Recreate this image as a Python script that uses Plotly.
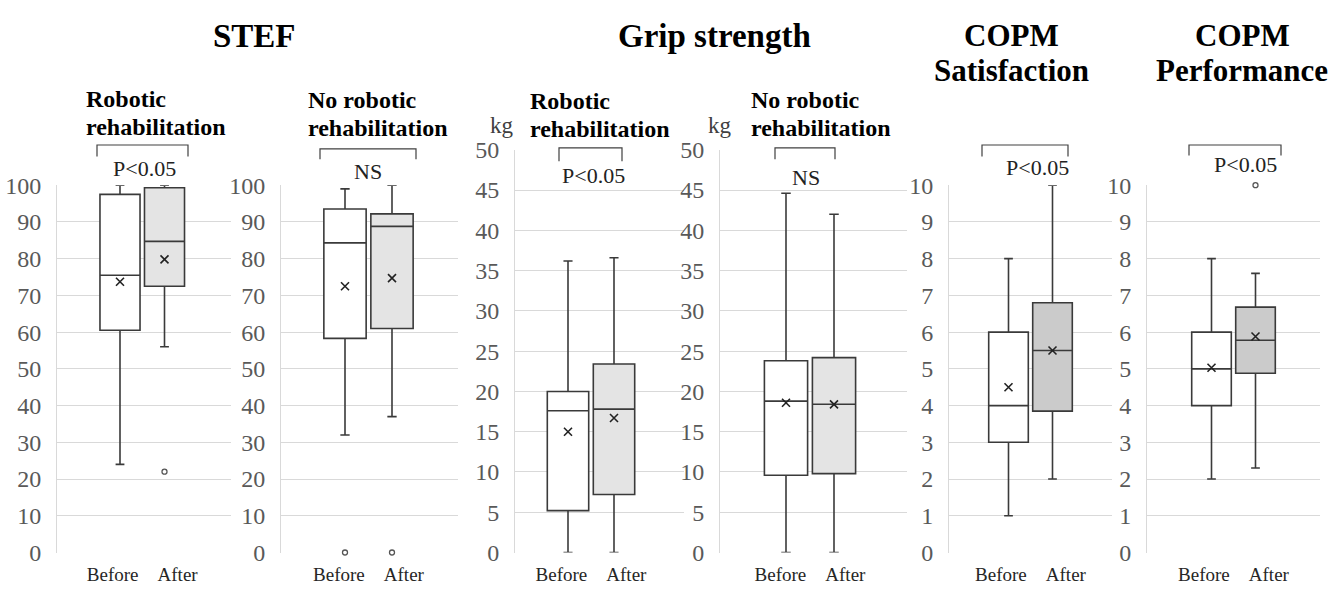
import plotly.graph_objects as go

# ---------------- data ----------------
groups = ["Before", "After"]

stef_rob_low = [24, 56]
stef_rob_q1 = [60.5, 72.5]
stef_rob_med = [75.5, 84.7]
stef_rob_q3 = [97.5, 99.3]
stef_rob_high = [100, 100]
stef_rob_mean = [73.7, 79.8]
stef_rob_out = [[], [22]]

stef_no_low = [32, 37]
stef_no_q1 = [58.3, 61]
stef_no_med = [84.3, 88.8]
stef_no_q3 = [93.5, 92.2]
stef_no_high = [99, 100]
stef_no_mean = [72.5, 74.7]
stef_no_out = [[0], [0]]

grip_rob_low = [0, 0]
grip_rob_q1 = [5.2, 7.2]
grip_rob_med = [17.6, 17.8]
grip_rob_q3 = [20.0, 23.4]
grip_rob_high = [36.2, 36.6]
grip_rob_mean = [15.0, 16.7]
grip_rob_out = [[], []]

grip_no_low = [0, 0]
grip_no_q1 = [9.6, 9.8]
grip_no_med = [18.8, 18.4]
grip_no_q3 = [23.8, 24.2]
grip_no_high = [44.6, 42.0]
grip_no_mean = [18.6, 18.4]
grip_no_out = [[], []]

sat_low = [1, 2]
sat_q1 = [3, 3.85]
sat_med = [4, 5.5]
sat_q3 = [6, 6.8]
sat_high = [8, 10]
sat_mean = [4.5, 5.5]
sat_out = [[], []]

perf_low = [2, 2.3]
perf_q1 = [4, 4.88]
perf_med = [5, 5.78]
perf_q3 = [6, 6.68]
perf_high = [8, 7.6]
perf_mean = [5.03, 5.88]
perf_out = [[], [10]]

stef_ticks = list(range(0, 101, 10))
grip_ticks = list(range(0, 51, 5))
copm_ticks = list(range(0, 11, 1))

# ---------------- layout helpers ----------------
W, H = 1342, 599
SERIF = "Liberation Serif, Times New Roman, serif"
def px(x):
    return x / W
def py(y):
    return 1 - y / H

panels = [
    dict(stats=(stef_rob_low, stef_rob_q1, stef_rob_med, stef_rob_q3, stef_rob_high, stef_rob_mean, stef_rob_out),
         ticks=stef_ticks, ymax=100, xpx=(57, 231), ytop=180, centers=(120, 164.5), after_fill="#e4e4e4"),
    dict(stats=(stef_no_low, stef_no_q1, stef_no_med, stef_no_q3, stef_no_high, stef_no_mean, stef_no_out),
         ticks=stef_ticks, ymax=100, xpx=(281, 458), ytop=180, centers=(345, 392), after_fill="#e4e4e4"),
    dict(stats=(grip_rob_low, grip_rob_q1, grip_rob_med, grip_rob_q3, grip_rob_high, grip_rob_mean, grip_rob_out),
         ticks=grip_ticks, ymax=50, xpx=(515, 684), ytop=143, centers=(568, 614), after_fill="#e4e4e4"),
    dict(stats=(grip_no_low, grip_no_q1, grip_no_med, grip_no_q3, grip_no_high, grip_no_mean, grip_no_out),
         ticks=grip_ticks, ymax=50, xpx=(720, 907), ytop=143, centers=(786, 834), after_fill="#e4e4e4"),
    dict(stats=(sat_low, sat_q1, sat_med, sat_q3, sat_high, sat_mean, sat_out),
         ticks=copm_ticks, ymax=10, xpx=(949, 1112), ytop=180, centers=(1008.5, 1052.5), after_fill="#cbcbcb"),
    dict(stats=(perf_low, perf_q1, perf_med, perf_q3, perf_high, perf_mean, perf_out),
         ticks=copm_ticks, ymax=10, xpx=(1147, 1320), ytop=180, centers=(1211.5, 1255.5), after_fill="#cbcbcb"),
]
YBOT = 564
LINE = "#3a3a3a"

fig = go.Figure()
layout_axes = {}
for i, p in enumerate(panels):
    n = i + 1
    xa = "x" if n == 1 else f"x{n}"
    ya = "y" if n == 1 else f"y{n}"
    low, q1, med, q3, high, mean, out = p["stats"]
    c0, c1 = p["centers"]
    d = c1 - c0
    lo = (p["xpx"][0] - c0) / d
    hi = (p["xpx"][1] - c0) / d
    for k in range(2):
        fig.add_trace(go.Box(
            x=[k], q1=[q1[k]], median=[med[k]], q3=[q3[k]],
            lowerfence=[low[k]], upperfence=[high[k]],
            width=0.9, whiskerwidth=0.22, boxpoints=False,
            fillcolor="white" if k == 0 else p["after_fill"],
            line=dict(color=LINE, width=1.6),
            xaxis=xa, yaxis=ya, showlegend=False, hoverinfo="skip"))
    fig.add_trace(go.Scatter(
        x=[0, 1], y=mean, mode="markers",
        marker=dict(symbol="x-thin", size=8, color="#222222", line=dict(color="#222222", width=1.6)),
        xaxis=xa, yaxis=ya, showlegend=False, hoverinfo="skip", cliponaxis=False))
    ox, oy = [], []
    for k in range(2):
        for v in out[k]:
            ox.append(k)
            oy.append(v)
    if ox:
        fig.add_trace(go.Scatter(
            x=ox, y=oy, mode="markers",
            marker=dict(symbol="circle-open", size=5, color="#555555", line=dict(color="#555555", width=1.3)),
            xaxis=xa, yaxis=ya, showlegend=False, hoverinfo="skip", cliponaxis=False))
    key = "" if n == 1 else str(n)
    layout_axes["xaxis" + key] = dict(
        domain=[px(p["xpx"][0]), px(p["xpx"][1])], range=[lo, hi],
        tickvals=[0.5], ticktext=["\u00a0\u00a0\u00a0\u00a0".join(groups)],
        showgrid=False, zeroline=False, showline=False, ticks="", anchor=ya,
        ticklabelstandoff=8,
        tickfont=dict(family=SERIF, size=19, color="#262626"))
    layout_axes["yaxis" + key] = dict(
        domain=[py(YBOT), py(p["ytop"])], range=[0, p["ymax"]],
        tickvals=p["ticks"], showgrid=True, gridcolor="#d9d9d9", gridwidth=1,
        zeroline=False, showline=True, linecolor="#d9d9d9", linewidth=1,
        ticks="", anchor=xa, ticklabelstandoff=10,
        tickfont=dict(family=SERIF, size=24, color="#595959"))

fig.update_layout(width=W, height=H, margin=dict(l=0, r=0, t=0, b=0),
                  plot_bgcolor="white", paper_bgcolor="white",
                  boxmode="overlay", **layout_axes)

annotations = []
def text(x, y, s, size, bold=False, color="black", xanchor="center"):
    annotations.append(dict(
        x=px(x), y=py(y), xref="paper", yref="paper", text=(f"<b>{s}</b>" if bold else s),
        showarrow=False, xanchor=xanchor, yanchor="middle",
        font=dict(family=SERIF, size=size, color=color)))

# main titles
text(254, 24, "STEF", 33, bold=True)
text(714, 24, "Grip strength", 33, bold=True)
text(1012, 23, "COPM", 31, bold=True)
text(1012, 60, "Satisfaction", 31, bold=True)
text(1242, 23, "COPM", 31, bold=True)
text(1242, 60, "Performance", 31, bold=True)
# sub titles (left aligned lines)
text(84, 90, "Robotic", 24, bold=True, xanchor="left")
text(84, 119, "rehabilitation", 24, bold=True, xanchor="left")
text(306, 91, "No robotic", 24, bold=True, xanchor="left")
text(306, 120, "rehabilitation", 24, bold=True, xanchor="left")
text(528, 92, "Robotic", 24, bold=True, xanchor="left")
text(528, 121, "rehabilitation", 24, bold=True, xanchor="left")
text(749, 91, "No robotic", 24, bold=True, xanchor="left")
text(749, 120, "rehabilitation", 24, bold=True, xanchor="left")
text(502, 118, "kg", 23, color="#404040")
text(720, 118, "kg", 23, color="#404040")
# significance labels
text(144, 163, "P&lt;0.05", 22, color="#222222")
text(368, 166, "NS", 22, color="#222222")
text(593, 170, "P&lt;0.05", 22, color="#222222")
text(806, 172, "NS", 22, color="#222222")
text(1037, 162, "P&lt;0.05", 22, color="#222222")
text(1245, 158, "P&lt;0.05", 22, color="#222222")

fig.update_layout(annotations=annotations)

# brackets
brackets = [(97, 188, 138, 150), (320, 416, 142, 153), (559, 622, 141, 155),
            (775, 835, 141, 153), (982, 1068, 138, 150), (1189, 1281, 138, 149)]
for x0, x1, yt, yb in brackets:
    fig.add_shape(type="path",
                  path=f"M {px(x0)} {py(yb)} L {px(x0)} {py(yt)} L {px(x1)} {py(yt)} L {px(x1)} {py(yb)}",
                  xref="paper", yref="paper", line=dict(color="#404040", width=1.2))

page_fix = ("document.documentElement.style.margin='0px';"
            "document.documentElement.style.overflow='hidden';"
            "document.body.style.margin='0px';"
            "document.body.style.overflow='hidden';"
            "var gd=document.getElementById('{plot_id}');"
            "gd.style.position='fixed';gd.style.top='0px';gd.style.left='0px';")
fig.write_html("out.html", config={"displayModeBar": False}, post_script=page_fix)
